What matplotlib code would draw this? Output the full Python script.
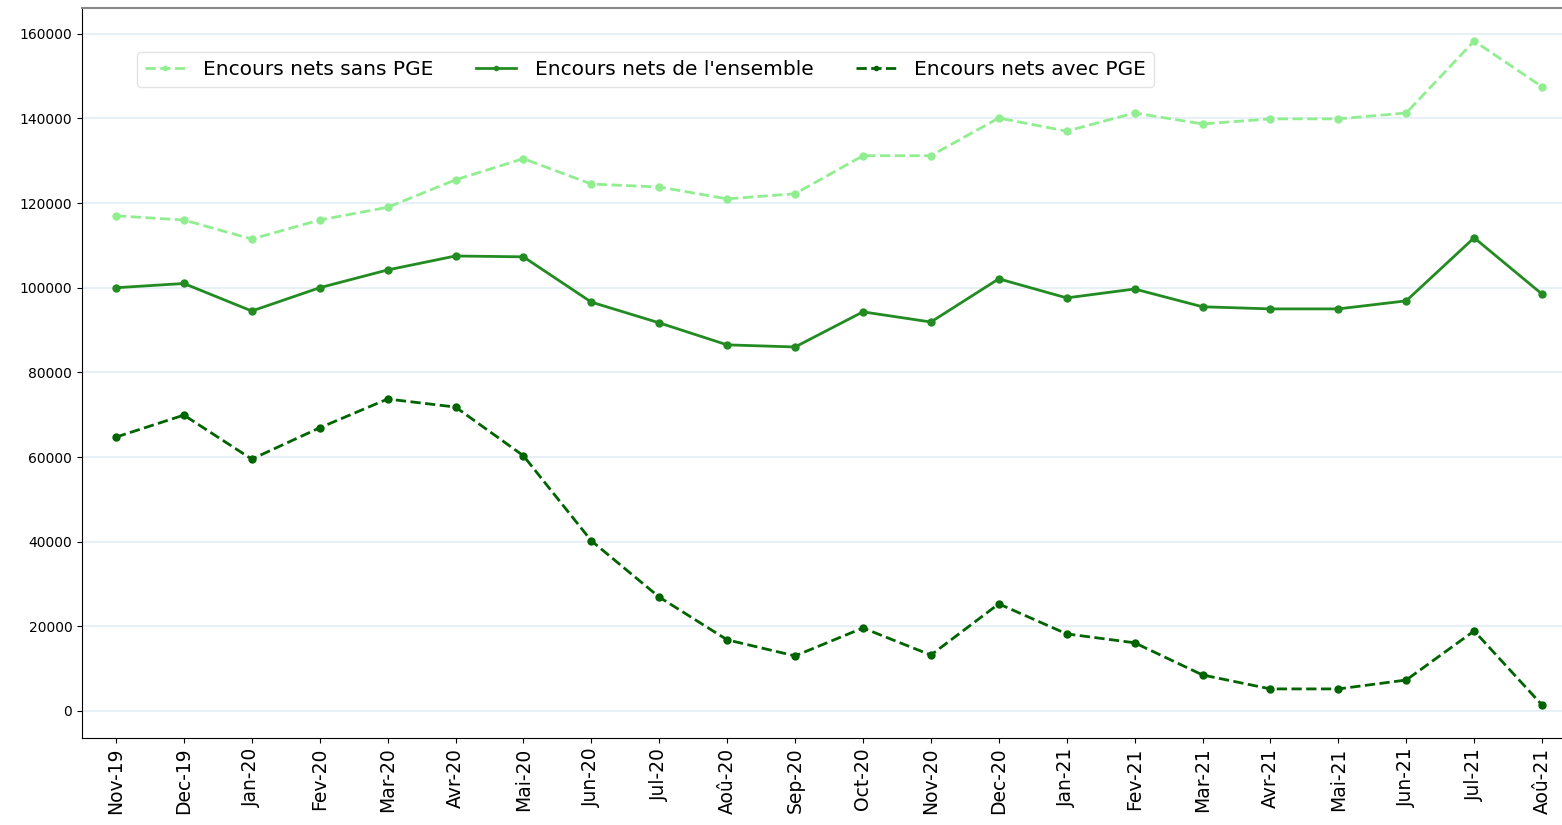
import numpy as np
import matplotlib
matplotlib.use("Agg")
import matplotlib.pyplot as plt

## months on the x axis
mois = ['Nov-19', 'Dec-19', 'Jan-20', 'Fev-20', 'Mar-20', 'Avr-20', 'Mai-20',
        'Jun-20', 'Jul-20', 'Aoû-20', 'Sep-20', 'Oct-20', 'Nov-20', 'Dec-20',
        'Jan-21', 'Fev-21', 'Mar-21', 'Avr-21', 'Mai-21', 'Jun-21', 'Jul-21',
        'Aoû-21']

sans_pge = [117000, 116000, 111500, 116000, 119000, 125500, 130500, 124500,
            123800, 121000, 122200, 131200, 131200, 140100, 137000, 141300,
            138700, 139900, 139900, 141300, 158300, 147500]
ensemble = [100000, 101000, 94500, 100000, 104200, 107500, 107300, 96600,
            91700, 86500, 86000, 94300, 91900, 102100, 97600, 99700,
            95500, 95000, 95000, 96900, 111800, 98500]
avec_pge = [64700, 69900, 59500, 66900, 73700, 71800, 60300, 40200,
            26900, 16800, 13000, 19600, 13200, 25300, 18200, 16100,
            8500, 5200, 5200, 7300, 18900, 1400]

fig = plt.figure(figsize=(15.62, 8.25), dpi=100)
ax = fig.add_axes([82/1562, 87/825, 1494/1562, 730/825])

x = np.arange(len(mois))
ax.plot(x, sans_pge, color='lightgreen', ls='--', lw=2, marker='o', ms=5,
        label='Encours nets sans PGE')
ax.plot(x, ensemble, color='forestgreen', ls='-', lw=2, marker='o', ms=5,
        label="Encours nets de l'ensemble")
ax.plot(x, avec_pge, color='darkgreen', ls='--', lw=2, marker='o', ms=5,
        label='Encours nets avec PGE')

ax.set_xlim(-0.5, 21.5)
ax.set_ylim(-6400, 166100)
ax.set_xticks(x)
ax.set_xticklabels(mois, rotation=90, fontsize=13.5)
ax.set_yticks(np.arange(0, 160001, 20000))
ax.tick_params(axis='y', labelsize=10)
ax.yaxis.grid(True, color='#e3eef5', lw=1.2)
ax.set_axisbelow(True)
ax.spines['top'].set_color('#888888')
ax.spines['top'].set_linewidth(1.5)
ax.spines['right'].set_visible(False)

ax.legend(loc='upper left', bbox_to_anchor=(0.0368, 0.9397), ncol=3,
          fontsize=14.5, handlelength=2.0, handletextpad=0.9,
          columnspacing=2.1, markerscale=0.6, borderaxespad=0,
          framealpha=0.8, edgecolor='#dddddd')

plt.savefig('out.png', dpi=100)
plt.close()
